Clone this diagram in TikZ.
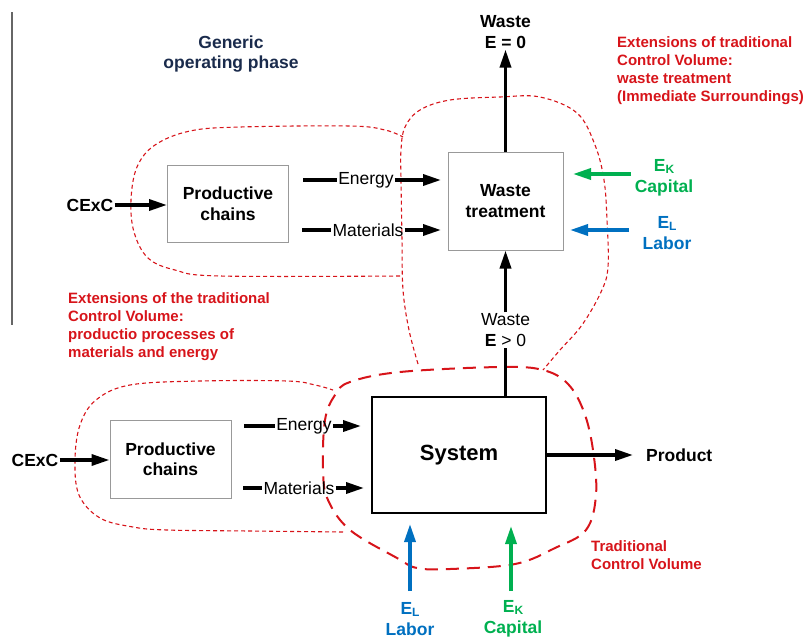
\documentclass[tikz,border=0pt]{standalone}
\usepackage{fontspec}
\setmainfont{Liberation Sans}
\usetikzlibrary{arrows.meta}
\definecolor{cvred}{HTML}{D7141A}
\definecolor{capgreen}{HTML}{00B050}
\definecolor{labblue}{HTML}{0070C0}
\definecolor{navy}{HTML}{1A2B4C}
\newcommand{\sub}[1]{\raisebox{-1.8pt}{\fontsize{12}{12}\selectfont #1}}
\tikzset{
  lbl/.style={font=\fontsize{17.5}{20.5}\selectfont, inner sep=1pt, align=center},
  blbl/.style={lbl, font=\fontsize{17.5}{20.5}\selectfont\bfseries},
  note/.style={font=\fontsize{15}{18}\selectfont\bfseries, text=cvred, align=left, inner sep=0pt, anchor=west},
  procbox/.style={draw=black!40, line width=1pt, minimum width=121pt, minimum height=77pt, blbl},
  flow/.style={line width=3.4pt, -{Triangle[length=18pt,width=11pt]}},
  lead/.style={line width=3.4pt},
  ext/.style={cvred, line width=1.1pt, dash pattern=on 4pt off 3pt},
  trad/.style={cvred, line width=2pt, dash pattern=on 13pt off 8pt},
}
\begin{document}
\begin{tikzpicture}[x=1pt,y=-1pt]
\useasboundingbox (0,0) rectangle (803,638);

% left margin rule
\draw[black!60, line width=1.2pt] (12,12) -- (12,325);

% control volume boundaries
\draw[ext] plot[smooth, tension=0.6] coordinates {(400,276) (220,276) (175,270) (148,258) (134,232) (131,200) (137,167) (155,145) (190,131) (240,127) (350,126) (385,130) (403,137)};
\draw[ext] plot[smooth, tension=0.6] coordinates {(418,364) (409,330) (403,290) (402,240) (401,180) (401,150) (405,127) (420,110) (450,100) (500,97) (540,97) (577,113) (595,145) (604,180) (607,220) (608,267) (601,292) (582,325) (560,350) (543,370)};
\draw[ext] plot[smooth, tension=0.6] coordinates {(343,532) (250,531) (167,530) (133,527) (100,518) (79,495) (75,460) (80,425) (96,400) (130,385) (200,381) (287,381) (315,385) (333,390)};
\draw[trad] plot[smooth cycle, tension=0.6] coordinates {(350,382) (400,372) (500,367) (543,370) (568,384) (584,412) (593,450) (596,495) (586,530) (555,548) (515,564) (450,569) (417,568) (397,558) (350,530) (328,500) (323,470) (325,420) (335,395)};

% titles and notes
\node[blbl, text=navy] (generic) at (231,54) {Generic\\operating phase};
\node[note] (noteTR) at (617,71) {Extensions of traditional\\Control Volume:\\waste treatment\\(Immediate Surroundings)};
\node[note] (noteL) at (68,326.5) {Extensions of the traditional\\Control Volume:\\productio processes of\\materials and energy};
\node[note] (noteTCV) at (591,555) {Traditional\\Control Volume};

% upper chain: waste treatment
\node[procbox] (pcT) at (228,203.5) {Productive\\chains};
\node[procbox, minimum width=115pt, minimum height=98pt] (wt) at (505.5,201) {Waste\\treatment};
\node[blbl] (cexcT) at (90,205) {CExC};
\draw[flow] (cexcT.east) -- (cexcT.east -| pcT.west);

\node[lbl] (enT) at (366,180) {Energy};
\coordinate (enTa) at (303,180);
\coordinate (enTb) at (441,180);
\draw[lead] (enTa) -- (enT.west);
\draw[flow] (enT.east) -- (enTb);

\node[lbl] (maT) at (368,230) {Materials};
\coordinate (maTa) at (302,230);
\coordinate (maTb) at (441,230);
\draw[lead] (maTa) -- (maT.west);
\draw[flow] (maT.east) -- (maTb);

\node[blbl] (wasteTop) at (505.5,32) {Waste\\E = 0};
\draw[flow] (wt.north) -- (wasteTop.south);

\node[blbl, text=capgreen] (ekT) at (664,178) {E\sub{K}\\Capital};
\coordinate (ekTa) at (631,174);
\coordinate (ekTb) at (573,174);
\draw[flow, capgreen] (ekTa) -- (ekTb);

\node[blbl, text=labblue] (elT) at (667,233) {E\sub{L}\\Labor};
\coordinate (elTa) at (629,230);
\coordinate (elTb) at (570,230);
\draw[flow, labblue] (elTa) -- (elTb);

% lower chain: system
\node[procbox, minimum height=78pt] (pcB) at (170.5,459) {Productive\\chains};
\node[draw=black, line width=1.2pt, minimum width=174pt, minimum height=116pt, blbl, font=\fontsize{22}{26}\selectfont\bfseries] (sys) at (459,455) {System};
\node[blbl] (cexcB) at (35,460) {CExC};
\draw[flow] (cexcB.east) -- (cexcB.east -| pcB.west);

\node[lbl] (enB) at (304,426) {Energy};
\coordinate (enBa) at (244,426);
\coordinate (enBb) at (361,426);
\draw[lead] (enBa) -- (enB.west);
\draw[flow] (enB.east) -- (enBb);

\node[lbl] (maB) at (299,488) {Materials};
\coordinate (maBa) at (243,488);
\coordinate (maBb) at (364,488);
\draw[lead] (maBa) -- (maB.west);
\draw[flow] (maB.east) -- (maBb);

\node[lbl] (wasteMid) at (505.5,330) {Waste\\\textbf{E} > 0};
\draw[lead] (wasteMid.south |- sys.north) -- (wasteMid.south);
\draw[flow] (wasteMid.north) -- (wt.south);

\coordinate (prodTip) at (633,455);
\node[blbl, anchor=west] (prod) at (645,455) {Product};
\draw[flow] (sys.east) -- (prodTip);

\node[blbl, text=labblue] (elB) at (410,619) {E\sub{L}\\Labor};
\coordinate (elBa) at (410,591);
\coordinate (elBb) at (410,524);
\draw[flow, labblue] (elBa) -- (elBb);

\node[blbl, text=capgreen] (ekB) at (513,619) {E\sub{K}\\Capital};
\coordinate (ekBa) at (511,591);
\coordinate (ekBb) at (511,526);
\draw[flow, capgreen] (ekBa) -- (ekBb);
\end{tikzpicture}
\end{document}
